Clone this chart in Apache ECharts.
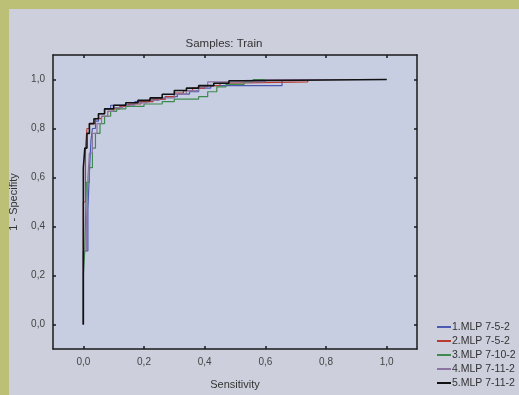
<!DOCTYPE html>
<html>
<head>
<meta charset="utf-8">
<script src="https://cdn.jsdelivr.net/npm/echarts@6/dist/echarts.min.js"></script>
<style>
html,body{margin:0;padding:0;width:519px;height:395px;overflow:hidden;background:#bcbf76;}
#panel{position:absolute;left:9px;top:9px;width:510px;height:386px;background:#cdd0dc;}
#chart{position:absolute;left:0;top:0;width:519px;height:395px;}
</style>
</head>
<body>
<div id="panel"></div>
<div id="chart"></div>
<script>
const titleText = 'Samples: Train';
const xName = 'Sensitivity';
const yName = '1 - Specifity';
const tickValues = [0, 0.2, 0.4, 0.6, 0.8, 1.0];
const seriesNames = ['1.MLP 7-5-2', '2.MLP 7-5-2', '3.MLP 7-10-2', '4.MLP 7-11-2', '5.MLP 7-11-2'];
const seriesColors = ['#4b5ab0', '#b83a30', '#3f8a4e', '#8c74a0', '#111111'];

const curve1 = [[0,0],[0,0.3],[0.015,0.47],[0.02,0.62],[0.025,0.75],[0.03,0.8],[0.04,0.83],[0.05,0.86],[0.07,0.88],[0.09,0.895],[0.13,0.9],[0.17,0.91],[0.22,0.92],[0.27,0.93],[0.31,0.94],[0.35,0.95],[0.38,0.965],[0.42,0.975],[0.655,1.0],[1.0,1.0]];
const curve2 = [[0,0],[0,0.5],[0.007,0.62],[0.007,0.72],[0.012,0.8],[0.02,0.82],[0.04,0.84],[0.06,0.85],[0.08,0.87],[0.1,0.88],[0.12,0.89],[0.15,0.9],[0.19,0.91],[0.23,0.92],[0.27,0.93],[0.3,0.945],[0.33,0.955],[0.36,0.965],[0.4,0.975],[0.45,0.985],[0.48,0.99],[0.74,1.0],[1.0,1.0]];
const curve3 = [[0,0],[0,0.2],[0.005,0.31],[0.01,0.58],[0.02,0.64],[0.03,0.72],[0.04,0.78],[0.055,0.82],[0.07,0.85],[0.09,0.87],[0.11,0.88],[0.14,0.89],[0.2,0.9],[0.26,0.91],[0.3,0.92],[0.38,0.93],[0.41,0.95],[0.44,0.97],[0.47,0.98],[0.53,0.99],[0.56,1.0],[1.0,1.0]];
const curve4 = [[0,0],[0,0.3],[0.01,0.4],[0.015,0.6],[0.02,0.7],[0.03,0.78],[0.045,0.82],[0.06,0.85],[0.08,0.87],[0.1,0.885],[0.13,0.895],[0.17,0.905],[0.21,0.915],[0.25,0.925],[0.3,0.94],[0.34,0.955],[0.38,0.97],[0.41,0.99],[0.6,1.0],[1.0,1.0]];
const curve5 = [[0,0],[0,0.64],[0.005,0.72],[0.012,0.78],[0.02,0.82],[0.035,0.84],[0.05,0.86],[0.07,0.88],[0.1,0.895],[0.14,0.905],[0.18,0.915],[0.22,0.925],[0.26,0.94],[0.3,0.955],[0.34,0.965],[0.38,0.975],[0.43,0.985],[0.48,0.995],[0.52,1.0],[1.0,1.0]];
const curves = [curve1, curve2, curve3, curve4, curve5];

const fmt = v => v.toFixed(1).replace('.', ',');
const txt = '#333';
const font = 'Liberation Sans, Arial, sans-serif';

function mkAxis(isX, pos, main) {
  return {
    type: 'value',
    position: pos,
    min: -0.1, max: 1.1,
    name: main ? (isX ? xName : yName) : '',
    nameLocation: 'middle',
    nameGap: isX ? 30 : 34,
    nameTextStyle: {color: txt, fontSize: 11, fontFamily: font},
    axisLine: {show: true, onZero: false, lineStyle: {color: '#1a1a1a', width: 1.5}},
    axisTick: {show: true, inside: true, length: 3, customValues: tickValues, lineStyle: {color: '#1a1a1a', width: 1.5}},
    axisLabel: {show: main, customValues: tickValues, formatter: fmt, color: '#444', fontSize: 10, fontFamily: font, margin: 8},
    splitLine: {show: false}
  };
}

const chart = echarts.init(document.getElementById('chart'), null, {renderer: 'canvas'});
chart.setOption({
  backgroundColor: 'transparent',
  animation: false,
  title: {text: titleText, left: 219, top: 33, textAlign: 'center',
    textStyle: {color: txt, fontSize: 11.5, fontWeight: 'normal', fontFamily: font}},
  grid: {left: 53, right: 102, top: 55, bottom: 40, show: true, backgroundColor: '#c7cee2', borderWidth: 0},
  xAxis: [mkAxis(true, 'bottom', true), mkAxis(true, 'top', false)],
  yAxis: [mkAxis(false, 'left', true), mkAxis(false, 'right', false)],
  legend: {
    orient: 'vertical', left: 432, top: 316,
    itemWidth: 14, itemHeight: 2, itemGap: 2, icon: 'rect',
    textStyle: {color: txt, fontSize: 10.5, fontFamily: font, lineHeight: 12, padding: [0,0,0,-4]},
    data: seriesNames
  },
  series: curves.map((d, i) => ({
    name: seriesNames[i],
    type: 'line',
    step: 'end',
    data: d,
    showSymbol: false,
    symbol: 'none',
    xAxisIndex: 0, yAxisIndex: 0,
    itemStyle: {color: seriesColors[i]},
    lineStyle: {color: seriesColors[i], width: i === 4 ? 1.6 : 1.2},
    z: i === 4 ? 3 : 2
  }))
});
</script>
</body>
</html>
